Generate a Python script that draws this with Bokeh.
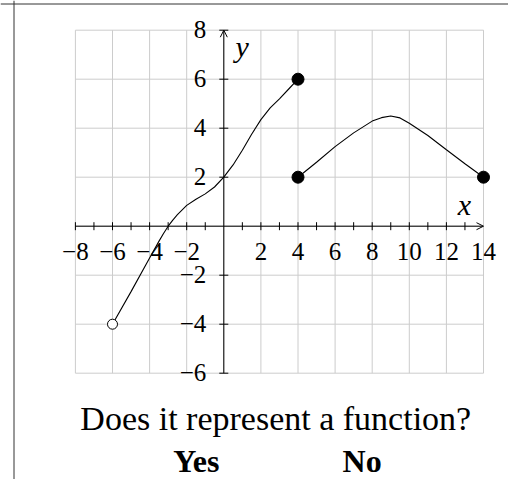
import numpy as np
from bokeh.plotting import figure
from bokeh.models import Arrow, OpenHead, Span, Range1d
from bokeh.core.properties import value
from bokeh.embed import file_html
from bokeh.resources import INLINE

# ---------------- data ----------------
grid_x = [-8, -6, -4, -2, 0, 2, 4, 6, 8, 10, 12, 14]
grid_y = [-6, -4, -2, 0, 2, 4, 6, 8]
x_minor_ticks = [-8, -7, -6, -5, -4, -3, -2, -1, 1, 2, 3, 4, 5, 6, 7, 8, 9, 10, 11, 12, 13]
x_tick_pos = [-8, -6, -4, -2, 2, 4, 6, 8, 10, 12, 14]
x_tick_labels = ["\u22128", "\u22126", "\u22124", "\u22122", "2", "4", "6", "8", "10", "12", "14"]
y_tick_pos = [-6, -4, -2, 2, 4, 6, 8]
y_tick_labels = ["\u22126", "\u22124", "\u22122", "2", "4", "6", "8"]

curve1_x = [-6, -5, -4, -3.5, -3.25, -3, -2.75, -2.5, -2, -1.5, -1, -0.5, 0, 0.5, 1, 1.5, 2, 2.5, 3, 3.5, 4]
curve1_y = [-4, -2.67, -1.3, -0.62, -0.3, 0, 0.25, 0.47, 0.85, 1.1, 1.32, 1.6, 2, 2.5, 3.1, 3.75, 4.35, 4.83, 5.2, 5.6, 6]

curve2_x = [4, 5, 6, 7, 8, 8.5, 9, 9.5, 10, 11, 12, 13, 14]
curve2_y = [2, 2.61, 3.25, 3.81, 4.29, 4.43, 4.5, 4.42, 4.2, 3.7, 3.12, 2.55, 2]

closed_x = [4, 4, 14]
closed_y = [6, 2, 2]
open_x = [-6]
open_y = [-4]

question = "Does it represent a function?"
answers = ["Yes", "No"]

# ---------------- layout ----------------
W, H = 508, 479
PX_X = 18.55   # pixels per x unit
PX_Y = 24.5    # pixels per y unit
X0_PX, Y0_PX = 223.3, 225.7  # canvas position of origin
x_start = -X0_PX / PX_X
x_end = (W - X0_PX) / PX_X
y_end = Y0_PX / PX_Y
y_start = -(H - Y0_PX) / PX_Y

SERIF = value("Liberation Serif")

p = figure(width=W, height=H, x_range=Range1d(x_start, x_end), y_range=Range1d(y_start, y_end),
           output_backend="svg", toolbar_location=None, min_border=0,
           x_axis_location=None, y_axis_location=None)
p.outline_line_color = None
p.background_fill_color = "white"
p.border_fill_color = "white"
for g in p.grid:
    g.visible = False

# border of the card (left + top)
p.add_layout(Span(location=x_start + 13.5 / PX_X, dimension="height", line_color="#333333", line_width=1))
p.add_layout(Span(location=y_end - 3.5 / PX_Y, dimension="width", line_color="#333333", line_width=1))

# grid
gx0, gx1 = min(grid_x), max(grid_x)
gy0, gy1 = min(grid_y), max(grid_y)
p.segment(x0=grid_x, y0=[gy0] * len(grid_x), x1=grid_x, y1=[gy1] * len(grid_x),
          line_color="#cccccc", line_width=1)
p.segment(x0=[gx0] * len(grid_y), y0=grid_y, x1=[gx1] * len(grid_y), y1=grid_y,
          line_color="#cccccc", line_width=1)

# axes with arrows
p.add_layout(Arrow(end=OpenHead(size=7, line_width=1, line_color="black"),
                   x_start=gx0, y_start=0, x_end=gx1, y_end=0, line_color="black", line_width=1))
p.add_layout(Arrow(end=OpenHead(size=7, line_width=1, line_color="black"),
                   x_start=0, y_start=gy0, x_end=0, y_end=gy1, line_color="black", line_width=1))

# ticks
p.scatter(x=x_minor_ticks, y=[0] * len(x_minor_ticks), marker="dash", angle=np.pi / 2,
          size=8, line_color="black", line_width=1)
p.scatter(x=[0] * len(y_tick_pos), y=y_tick_pos, marker="dash", size=9,
          line_color="black", line_width=1)

# tick labels
p.text(x=x_tick_pos, y=[0] * len(x_tick_pos), text=x_tick_labels, text_align="center",
       text_baseline="alphabetic", y_offset=25.5, text_font=SERIF,
       text_font_size=value("25px"), text_color="black")
p.text(x=[0] * len(y_tick_pos), y=y_tick_pos, text=y_tick_labels, text_align="right",
       text_baseline="alphabetic", x_offset=-17.5, y_offset=-1, text_font=SERIF,
       text_font_size=value("25px"), text_color="black")

# axis names
p.text(x=[gx1], y=[0], text=["x"], text_align="center", text_baseline="alphabetic",
       x_offset=-19.2, y_offset=-21.7, text_font=SERIF, text_font_style="italic",
       text_font_size=value("30px"), text_color="black")
p.text(x=[0], y=[gy1], text=["y"], text_align="center", text_baseline="alphabetic",
       x_offset=18.4, y_offset=16, text_font=SERIF, text_font_style="italic",
       text_font_size=value("30px"), text_color="black")

# curves
p.line(curve1_x, curve1_y, line_color="black", line_width=1.1)
p.line(curve2_x, curve2_y, line_color="black", line_width=1.1)

# endpoints
p.scatter(closed_x, closed_y, size=12, fill_color="black", line_color="black")
p.scatter(open_x, open_y, size=10, fill_color="white", line_color="black", line_width=1)

# question and answers
mid = (gx0 + gx1) / 2
p.text(x=[mid], y=[gy0], text=[question], text_align="center", text_baseline="alphabetic",
       x_offset=-3.7, y_offset=45.5, text_font=SERIF, text_font_size=value("34px"), text_color="black")
p.text(x=[mid, mid], y=[gy0, gy0], text=answers, text_align="center", text_baseline="alphabetic",
       x_offset=[-83.2, 82.7], y_offset=88, text_font=SERIF, text_font_style="bold",
       text_font_size=value("32px"), text_color="black")

open("out.html", "w").write(file_html(p, INLINE))
